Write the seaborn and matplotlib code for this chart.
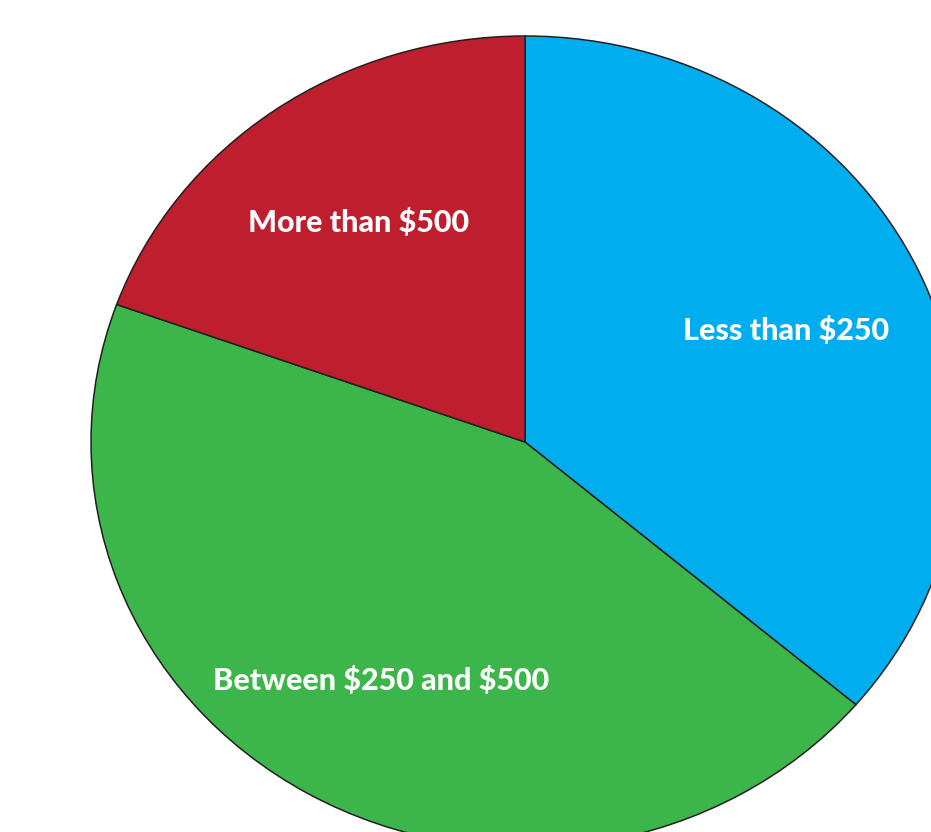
import matplotlib
matplotlib.use("Agg")
import matplotlib.pyplot as plt
import seaborn as sns

categories = ["Less than $250", "Between $250 and $500", "More than $500"]
values = [36.2, 44.3, 19.5]
colors = ["#00AEEF", "#3CB54A", "#BE1E2D"]

sns.set_style("white")
plt.rcParams['font.family'] = ['Lato', 'DejaVu Sans']
plt.rcParams['text.parse_math'] = False

W, H = 931, 832
fig = plt.figure(figsize=(W / 100, H / 100), dpi=100)
cx, cy, rx, ry = 525, 442, 434, 406
ax = fig.add_axes([(cx - rx) / W, (H - cy - ry) / H, 2 * rx / W, 2 * ry / H])
wedges, _ = ax.pie(values, colors=colors, startangle=90, counterclock=False,
                   wedgeprops=dict(edgecolor="#231F20", linewidth=1.1),
                   radius=1.0)
ax.set_aspect('auto')
ax.set_xlim(-1, 1)
ax.set_ylim(-1, 1)
ax.axis('off')

label_px = [(786, 330), (381, 681), (359, 222)]
for lab, (px, py) in zip(categories, label_px):
    fig.text(px / W, 1 - py / H, lab, color="white", fontsize=22,
             fontweight="black", ha="center", va="center", parse_math=False)

fig.savefig("out.png", dpi=100)
